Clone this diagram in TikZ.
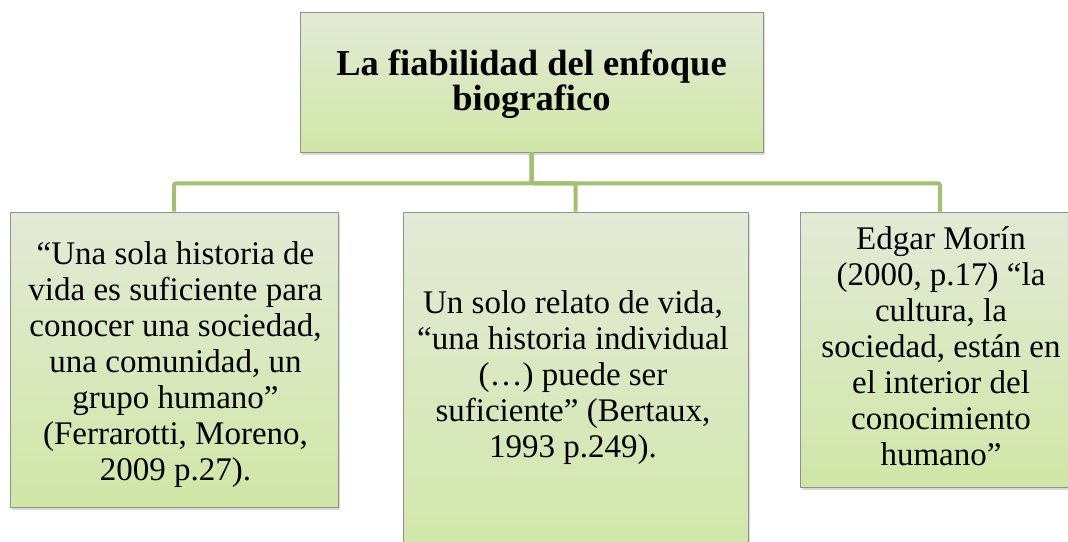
\documentclass[tikz,border=0pt]{standalone}
\usepackage{fontspec}
\setmainfont{Liberation Serif}
\usetikzlibrary{shadows}
\definecolor{linkgreen}{RGB}{162,193,110}
\definecolor{boxtop}{RGB}{227,234,214}
\definecolor{boxbot}{RGB}{208,231,166}
\definecolor{boxedge}{RGB}{145,145,145}
\tikzset{
  box/.style={draw=boxedge, line width=0.8pt, top color=boxtop, bottom color=boxbot,
    inner sep=0pt,
    drop shadow={shadow xshift=2pt, shadow yshift=-3pt, opacity=0.3, fill=black!50}},
  link/.style={draw=linkgreen, line width=4pt, rounded corners=2pt},
  bodytext/.style={font=\fontsize{33}{36}\selectfont, align=center, inner sep=0pt, anchor=base},
  titletext/.style={font=\bfseries\fontsize{36.5}{33}\selectfont, align=center, inner sep=0pt, anchor=base},
}
\begin{document}
\begin{tikzpicture}[x=1pt,y=-1pt]
\useasboundingbox (0,0) rectangle (1068,541);
\clip (0,0) rectangle (1068,541);
% boxes
\node[box, minimum width=463pt, minimum height=140pt] (top) at (531.5,82) {};
\node[box, minimum width=328pt, minimum height=295pt] (left) at (174,359.5) {};
\node[box, minimum width=345pt, minimum height=370pt] (mid) at (575.5,397) {};
\node[box, minimum width=280pt, minimum height=275pt] (right) at (940,349.5) {};
% texts (anchor base = baseline of the last line)
\node[titletext] (toptext) at (531.5,110) {La fiabilidad del enfoque\\biografico};
\node[bodytext] (lefttext) at (175.5,480)
  {“Una sola historia de\\vida es suficiente para\\conocer una sociedad,\\una comunidad, un\\grupo humano”\\(Ferrarotti, Moreno,\\2009 p.27).};
\node[bodytext] (midtext) at (573,457)
  {Un solo relato de vida,\\“una historia individual\\(…) puede ser\\suficiente” (Bertaux,\\1993 p.249).};
\node[bodytext] (righttext) at (941,465)
  {Edgar Morín\\(2000, p.17) “la\\cultura, la\\sociedad, están en\\el interior del\\conocimiento\\humano”};
% connectors
\draw[link] (top.south) -- ++(0,31) -| (left.north);
\draw[link] (top.south) -- ++(0,31) -| (mid.north);
\draw[link] (top.south) -- ++(0,31) -| (right.north);
\end{tikzpicture}
\end{document}
